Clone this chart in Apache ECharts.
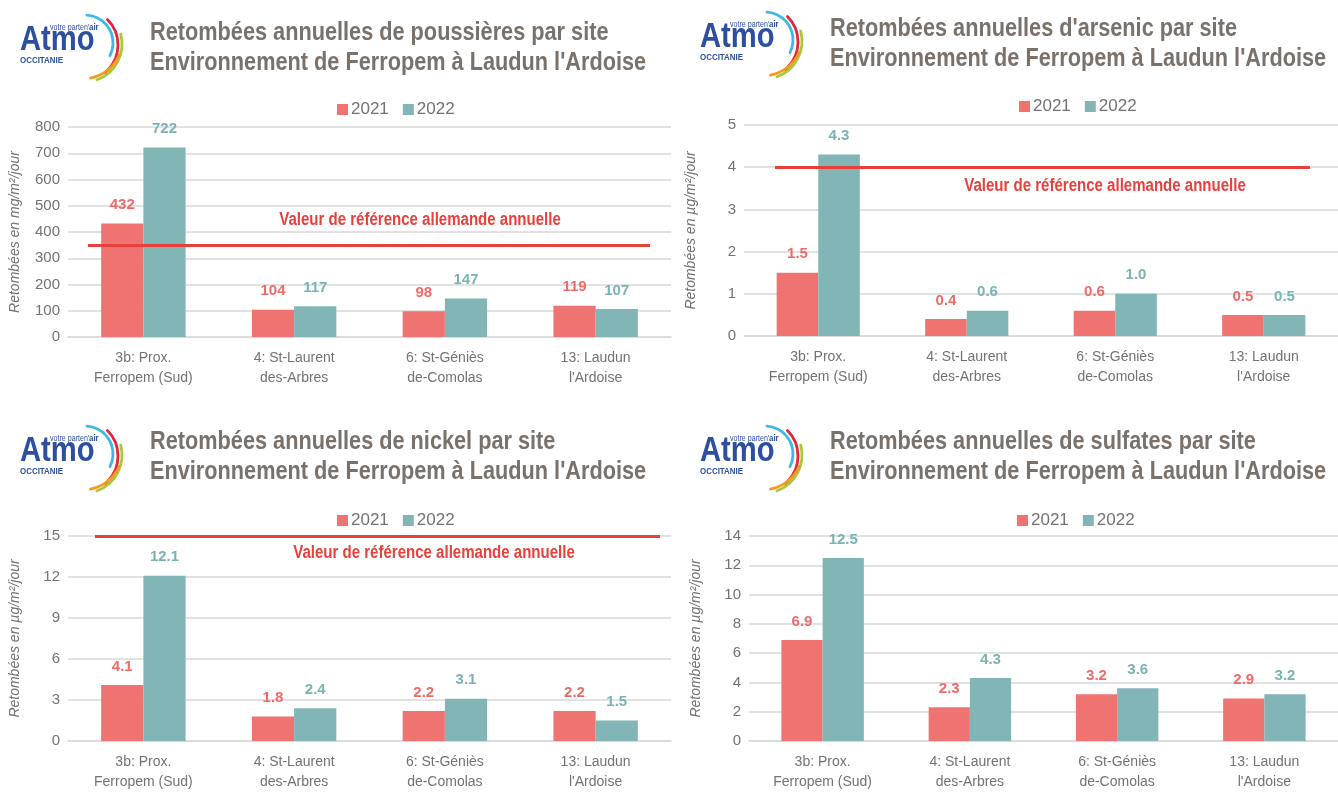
<!DOCTYPE html>
<html>
<head>
<meta charset="utf-8">
<script src="https://cdn.jsdelivr.net/npm/echarts@6/dist/echarts.min.js"></script>
<style>
  html, body { margin: 0; padding: 0; background: #fff; }
  #chart { width: 1338px; height: 792px; }
</style>
</head>
<body>
<div id="chart"></div>
<script>
// sites (categories)
const sites = ['3b: Prox.\nFerropem (Sud)', '4: St-Laurent\ndes-Arbres', '6: St-Géniès\nde-Comolas', "13: Laudun\nl'Ardoise"];
const years = ['2021', '2022'];

// poussières (mg/m²/jour)
const poussieres2021 = [432, 104, 98, 119];
const poussieres2022 = [722, 117, 147, 107];
const refPoussieres = 350;

// arsenic (µg/m²/jour)
const arsenic2021 = [1.5, 0.4, 0.6, 0.5];
const arsenic2022 = [4.3, 0.6, 1.0, 0.5];
const refArsenic = 4;

// nickel (µg/m²/jour)
const nickel2021 = [4.1, 1.8, 2.2, 2.2];
const nickel2022 = [12.1, 2.4, 3.1, 1.5];
const refNickel = 15;

// sulfates (µg/m²/jour)
const sulfates2021 = [6.9, 2.3, 3.2, 2.9];
const sulfates2022 = [12.5, 4.3, 3.6, 3.2];

const FONT = "'Liberation Sans', Arial, sans-serif";
const NARROW = 0.835; // Arial Narrow look, by squeezing Liberation Sans
const TXT = '#767171';
const RED = '#ef7370';
const TEAL = '#82b5b5';
const REFRED = '#e8413c';
const REF_TEXT = 'Valeur de référence allemande annuelle';

const panels = [
    {
        title: 'Retombées annuelles de poussières par site\nEnvironnement de Ferropem à Laudun l\'Ardoise',
        titlePos: [150, 18], logo: [13, 12], legend: [332, 96],
        unit: 'Retombées en mg/m²/jour',
        grid: { left: 68, top: 127, width: 603, height: 210 },
        max: 800, interval: 100, decimals: 0,
        d2021: poussieres2021, d2022: poussieres2022,
        ref: refPoussieres, refX: [88, 650], refLabel: [420, 220]
    },
    {
        title: 'Retombées annuelles d\'arsenic par site\nEnvironnement de Ferropem à Laudun l\'Ardoise',
        titlePos: [830, 14], logo: [693, 9], legend: [1014, 93],
        unit: 'Retombées en µg/m²/jour',
        grid: { left: 744, top: 125, width: 603, height: 211 },
        max: 5, interval: 1, decimals: 1,
        d2021: arsenic2021, d2022: arsenic2022,
        ref: refArsenic, refX: [775, 1310], refLabel: [1105, 186]
    },
    {
        title: 'Retombées annuelles de nickel par site\nEnvironnement de Ferropem à Laudun l\'Ardoise',
        titlePos: [150, 427], logo: [13, 423], legend: [332, 507],
        unit: 'Retombées en µg/m²/jour',
        grid: { left: 68, top: 536, width: 603, height: 208 },
        max: 15, interval: 3, decimals: 1,
        d2021: nickel2021, d2022: nickel2022,
        ref: refNickel, refX: [95, 660], refLabel: [434, 553]
    },
    {
        title: 'Retombées annuelles de sulfates par site\nEnvironnement de Ferropem à Laudun l\'Ardoise',
        titlePos: [830, 427], logo: [693, 423], legend: [1012, 507],
        unit: 'Retombées en µg/m²/jour',
        grid: { left: 749, top: 536, width: 603, height: 208 },
        max: 14, interval: 2, decimals: 1,
        d2021: sulfates2021, d2022: sulfates2022,
        ref: null
    }
];

function logo(x, y) {
    const blue = '#2d4f9f';
    const arc = (cx, cy, r, a0, a1, color) => ({
        type: 'arc',
        shape: { cx: cx, cy: cy, r: r, startAngle: a0 * Math.PI / 180, endAngle: a1 * Math.PI / 180 },
        style: { stroke: color, lineWidth: 2.8, fill: null, lineCap: 'round' }
    });
    return {
        type: 'group', x: x, y: y, silent: true,
        children: [
            arc(72, 31, 28, -86, 27, '#3fb8e6'),
            arc(69, 33, 36, -45, 50, '#e0283c'),
            arc(71, 32, 38, -15, 70, '#a8c83a'),
            arc(69, 26, 41, 25, 78, '#f39a1f'),
            { type: 'text', x: 7, y: 11, scaleX: NARROW, style: { text: 'Atmo', fill: blue, font: 'bold 35px ' + FONT } },
            { type: 'text', x: 37, y: 11, scaleX: NARROW, style: { text: "votre parten'", fill: blue, font: '8.5px ' + FONT } },
            { type: 'text', x: 76, y: 10, scaleX: NARROW, style: { text: 'air', fill: blue, font: 'bold 9.5px ' + FONT } },
            { type: 'text', x: 7, y: 43, scaleX: NARROW, style: { text: 'OCCITANIE', fill: blue, font: 'bold 9.5px ' + FONT } }
        ]
    };
}

const option = {
    animation: false,
    textStyle: { fontFamily: FONT },
    legend: [], grid: [], xAxis: [], yAxis: [], series: [], graphic: []
};

panels.forEach((p, i) => {
    option.graphic.push({
        type: 'text', x: p.titlePos[0], y: p.titlePos[1], scaleX: NARROW, silent: true,
        style: { text: p.title, fill: '#7a716a', font: 'bold 26px ' + FONT, lineHeight: 30 }
    });
    option.legend.push({
        data: years, left: p.legend[0], top: p.legend[1],
        itemWidth: 11, itemHeight: 11, itemGap: 14, icon: 'rect',
        textStyle: { color: TXT, fontSize: 17, padding: [0, 0, 0, -2], fontFamily: FONT }
    });
    option.grid.push(p.grid);
    option.xAxis.push({
        type: 'category', gridIndex: i, data: sites,
        axisTick: { show: false },
        axisLine: { lineStyle: { color: '#d9d9d9', width: 1.5 } },
        axisLabel: { color: TXT, fontSize: 14, lineHeight: 20, margin: 11, interval: 0, fontFamily: FONT }
    });
    option.yAxis.push({
        type: 'value', gridIndex: i, min: 0, max: p.max, interval: p.interval,
        name: p.unit, nameLocation: 'middle', nameGap: 46,
        nameTextStyle: { color: TXT, fontSize: 14, fontStyle: 'italic', fontFamily: FONT },
        axisLabel: { color: TXT, fontSize: 15, margin: 8, fontFamily: FONT },
        splitLine: { lineStyle: { color: '#d9d9d9', width: 1.5 } }
    });
    const fmt = (prm) => prm.value.toFixed(p.decimals);
    const s2021 = {
        name: '2021', type: 'bar', xAxisIndex: i, yAxisIndex: i, data: p.d2021,
        barWidth: '28%', barGap: 0,
        itemStyle: { color: RED },
        label: { show: true, position: 'top', distance: 11, formatter: fmt, color: '#ef6a68', fontSize: 15, fontWeight: 'bold', fontFamily: FONT }
    };
    if (p.ref != null) {
        s2021.markLine = {
            silent: true, symbol: 'none', animation: false,
            lineStyle: { color: REFRED, width: 3, type: 'solid' },
            label: { show: false },
            data: [[{ x: p.refX[0], yAxis: p.ref }, { x: p.refX[1], yAxis: p.ref }]]
        };
        option.graphic.push({
            type: 'text', x: p.refLabel[0], y: p.refLabel[1], scaleX: NARROW, silent: true,
            style: { text: REF_TEXT, fill: REFRED, font: 'bold 18px ' + FONT, align: 'center', verticalAlign: 'middle' }
        });
    }
    option.series.push(s2021);
    option.series.push({
        name: '2022', type: 'bar', xAxisIndex: i, yAxisIndex: i, data: p.d2022,
        barWidth: '28%', barGap: 0,
        itemStyle: { color: TEAL },
        label: { show: true, position: 'top', distance: 11, formatter: fmt, color: '#7ab3b3', fontSize: 15, fontWeight: 'bold', fontFamily: FONT }
    });
    option.graphic.push(logo(p.logo[0], p.logo[1]));
});

const chart = echarts.init(document.getElementById('chart'));
chart.setOption(option);
window.addEventListener('resize', () => chart.resize());
</script>
</body>
</html>
